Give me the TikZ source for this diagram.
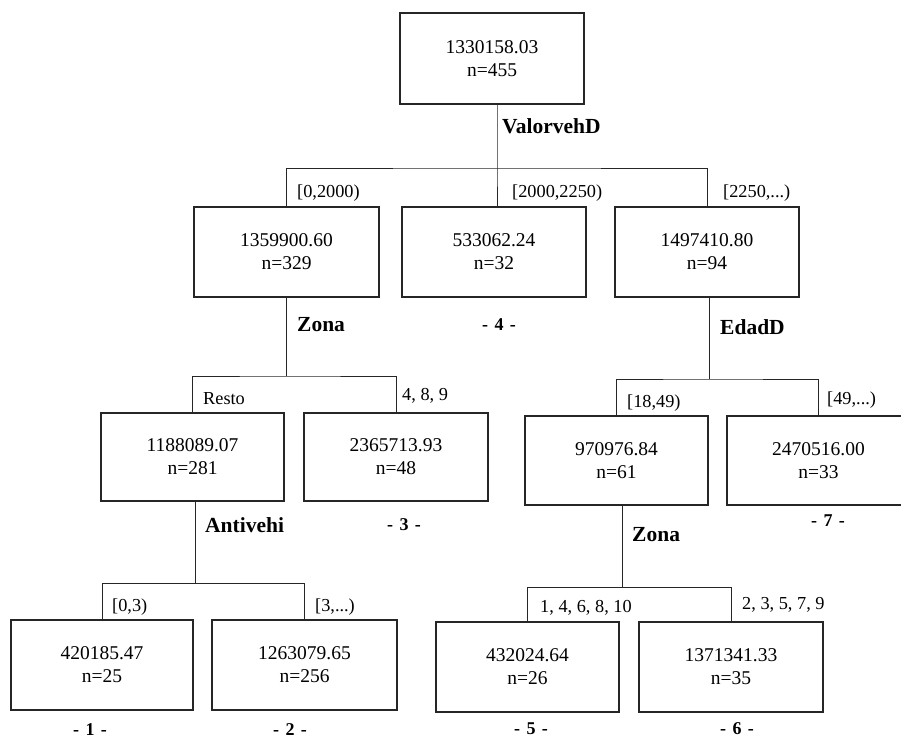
\documentclass[tikz,border=0pt]{standalone}
\usepackage{fontspec}
\setmainfont{Liberation Serif}
\newcommand{\grouptag}[1]{-\hspace{0.35em}#1\hspace{0.35em}-}
\begin{document}
\begin{tikzpicture}[x=1pt,y=-1pt,
  leaf/.style={draw=black!85, line width=1.2pt, align=center, inner sep=0pt,
    minimum height=90pt, font=\fontsize{19.5}{23}\selectfont},
  edge/.style={draw=black!85, line width=1pt},
  var/.style={anchor=west, inner sep=0pt, font=\fontsize{21.5}{24}\selectfont\bfseries},
  cond/.style={anchor=west, inner sep=0pt, font=\fontsize{18.3}{20}\selectfont},
  tag/.style={inner sep=0pt, font=\fontsize{18}{20}\selectfont\bfseries}]
\clip (0,0) rectangle (901,739);

% tree nodes: mean and sample size
\node[leaf, minimum width=184pt, minimum height=91pt] (root) at (492,58.5) {1330158.03\\n=455};
\node[leaf, minimum width=185pt] (a) at (286.5,252) {1359900.60\\n=329};
\node[leaf, minimum width=184pt] (b) at (494,252) {533062.24\\n=32};
\node[leaf, minimum width=184pt] (c) at (707,252) {1497410.80\\n=94};
\node[leaf, minimum width=183pt, minimum height=88pt] (d) at (192.5,457) {1188089.07\\n=281};
\node[leaf, minimum width=184pt, minimum height=88pt] (e) at (396,457) {2365713.93\\n=48};
\node[leaf, minimum width=183pt, minimum height=89pt] (f) at (616.5,460.5) {970976.84\\n=61};
\node[leaf, minimum width=183pt, minimum height=89pt] (g) at (818.5,460.5) {2470516.00\\n=33};
\node[leaf, minimum width=182pt] (j) at (102,665) {420185.47\\n=25};
\node[leaf, minimum width=185pt] (k) at (304.5,665) {1263079.65\\n=256};
\node[leaf, minimum width=183pt] (h) at (527.5,667) {432024.64\\n=26};
\node[leaf, minimum width=184pt] (i) at (731,667) {1371341.33\\n=35};

% split points
\coordinate (s0) at (497,168);
\coordinate (s1) at (286,376);
\coordinate (s2) at (709,379);
\coordinate (s3) at (195,583);
\coordinate (s4) at (622,587);

% connectors
\draw[edge] (root.south -| s0) -- (s0) -- (s0 |- b.north);
\draw[edge] (a.north) |- (s0) -| (c.north);
\draw[edge] (a.south -| s1) -- (s1);
\draw[edge] (d.north) |- (s1) -| (e.north);
\draw[edge] (c.south -| s2) -- (s2);
\draw[edge] (f.north) |- (s2) -| (g.north);
\draw[edge] (d.south -| s3) -- (s3);
\draw[edge] (j.north) |- (s3) -| (k.north);
\draw[edge] (f.south -| s4) -- (s4);
\draw[edge] (h.north) |- (s4) -| (i.north);

% splitting variables
\node[var] (v0) at (502,126) {ValorvehD};
\node[var] (v1) at (297,325) {Zona};
\node[var] (v2) at (720,327) {EdadD};
\node[var] (v3) at (205,525) {Antivehi};
\node[var] (v4) at (632,535) {Zona};

% branch conditions
\node[cond] (c1) at (297,193) {[0,2000)};
\node[cond] (c2) at (512,193) {[2000,2250)};
\node[cond] (c3) at (723,193) {[2250,...)};
\node[cond] (c4) at (203,399) {Resto};
\node[cond] (c5) at (402,396) {4, 8, 9};
\node[cond] (c6) at (627,403) {[18,49)};
\node[cond] (c7) at (827,400) {[49,...)};
\node[cond] (c8) at (112,607) {[0,3)};
\node[cond] (c9) at (315,607) {[3,...)};
\node[cond] (c10) at (540,608) {1, 4, 6, 8, 10};
\node[cond] (c11) at (742,605) {2, 3, 5, 7, 9};

% terminal group numbers
\node[tag] (t1) at (90,730) {\grouptag{1}};
\node[tag] (t2) at (290,730) {\grouptag{2}};
\node[tag] (t3) at (404,525) {\grouptag{3}};
\node[tag] (t4) at (499,325) {\grouptag{4}};
\node[tag] (t5) at (531,729) {\grouptag{5}};
\node[tag] (t6) at (737,729) {\grouptag{6}};
\node[tag] (t7) at (828,521) {\grouptag{7}};
\end{tikzpicture}
\end{document}
